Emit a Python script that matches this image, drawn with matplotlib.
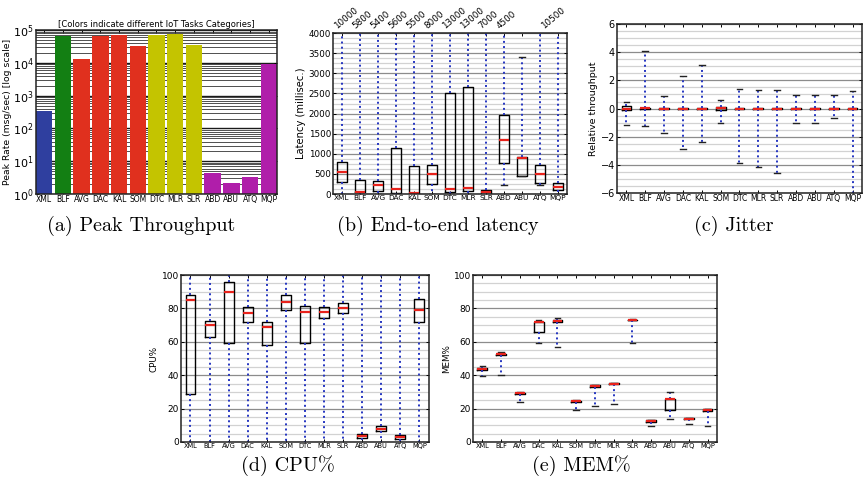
import numpy as np
import matplotlib
matplotlib.use('Agg')
import matplotlib.pyplot as plt
from matplotlib.ticker import AutoMinorLocator, MultipleLocator, LogLocator

tasks = ['XML', 'BLF', 'AVG', 'DAC', 'KAL', 'SOM', 'DTC', 'MLR', 'SLR',
         'ABD', 'ABU', 'ATQ', 'MQP']

# --- (a) peak throughput (msg/sec) ---
peak_rate = [330, 65000, 13000, 65000, 72000, 33000, 70000, 76000, 36000,
             4.3, 2.2, 3.3, 9200]
bar_colors = ['#2f3f9f', '#137f13', '#e0301e', '#e0301e', '#e0301e', '#e0301e',
              '#c4c400', '#c4c400', '#c4c400', '#b01eaa', '#b01eaa', '#b01eaa', '#b01eaa']

# --- (b) end-to-end latency (ms) ---
lat_q1 = [290, 40, 85, 25, 0, 250, 40, 85, 0, 780, 455, 275, 110]
lat_med = [550, 60, 225, 115, 35, 505, 125, 140, 50, 1350, 885, 505, 175]
lat_q3 = [805, 350, 330, 1150, 690, 720, 2510, 2650, 90, 1955, 930, 720, 275]
lat_lo = [0, 0, 0, 0, 0, 0, 0, 0, 0, 215, 440, 225, 0]
lat_hi = [10000, 5800, 5400, 5600, 5500, 8000, 13000, 13000, 7000, 4500, 3410, 10500, 10500]
# max values printed above the axes (position, text)
lat_top_pos = [1, 2, 3, 4, 5, 6, 7, 8, 9, 10, 12.5]
lat_top_txt = ['10000', '5800', '5400', '5600', '5500', '8000', '13000', '13000',
               '7000', '4500', '10500']

# --- (c) jitter (relative throughput) ---
jit_q1 = [-0.12, -0.02, -0.03, -0.03, -0.03, -0.08, -0.03, -0.03, -0.03, -0.03, -0.03, -0.03, -0.03]
jit_med = [0.0, 0.05, 0.0, 0.0, 0.0, 0.02, 0.0, 0.0, 0.0, 0.0, 0.0, 0.0, 0.0]
jit_q3 = [0.15, 0.06, 0.03, 0.03, 0.03, 0.08, 0.03, 0.03, 0.03, 0.03, 0.03, 0.03, 0.03]
jit_lo = [-1.15, -1.27, -1.74, -2.88, -2.38, -1.05, -3.85, -4.15, -4.6, -1.05, -1.05, -0.7, -7.0]
jit_hi = [0.49, 4.06, 0.86, 2.31, 3.11, 0.58, 1.38, 1.31, 1.31, 0.96, 0.96, 0.96, 1.27]

# --- (d) CPU% ---
cpu_q1 = [28.8, 63, 59.4, 72, 58, 79, 59, 74, 77.4, 2.6, 6.4, 2.0, 71.8]
cpu_med = [85, 70, 89.6, 77, 69, 84, 77.6, 77.6, 80, 3.6, 7.8, 3.0, 79]
cpu_q3 = [88, 72.6, 95.8, 80.6, 72, 88, 81.6, 80.6, 83, 4.6, 9.4, 4.2, 85.8]
cpu_lo = [0] * 13
cpu_hi = [100] * 13

# --- (e) MEM% ---
mem_q1 = [43.0, 52.0, 29.0, 66.0, 72.0, 24.2, 33.0, 34.6, 72.8, 12.2, 19.0, 13.6, 18.8]
mem_med = [43.6, 52.4, 29.2, 72.0, 72.6, 24.6, 33.4, 35.0, 73.0, 12.6, 25.6, 14.0, 19.2]
mem_q3 = [44.2, 52.8, 29.6, 72.0, 73.2, 24.8, 34.0, 35.4, 73.2, 13.0, 25.6, 14.4, 19.6]
mem_lo = [39.8, 40.2, 24.2, 59.0, 56.8, 19.4, 21.4, 22.6, 59.2, 9.4, 13.6, 11.0, 9.6]
mem_hi = [45.4, 54.0, 30.0, 72.8, 74.0, 25.0, 34.4, 35.6, 73.4, 13.2, 29.8, 14.6, 19.8]


def make_stats(q1, med, q3, lo, hi):
    return [{'label': t, 'q1': a, 'med': m, 'q3': b, 'whislo': l, 'whishi': h, 'fliers': []}
            for t, a, m, b, l, h in zip(tasks, q1, med, q3, lo, hi)]


def draw_box(ax, stats, ylim, major, fs_y, fs_x, ylabel, fs_lab, caps=True):
    ax.bxp(stats, widths=0.52, capwidths=0.3, showfliers=False, showcaps=caps,
           boxprops=dict(color='black', lw=1.0),
           medianprops=dict(color='#e8231c', lw=1.6),
           whiskerprops=dict(color='#2535c0', ls=':', lw=1.4),
           capprops=dict(color='#222222', lw=1.0))
    ax.set_xlim(0.5, 13.5)
    ax.set_ylim(*ylim)
    ax.yaxis.set_major_locator(MultipleLocator(major))
    ax.yaxis.set_minor_locator(AutoMinorLocator(4))
    ax.grid(True, which='major', axis='y', color='#8c8c8c', lw=0.9)
    ax.grid(True, which='minor', axis='y', color='#d2d2d2', lw=0.9)
    ax.set_axisbelow(True)
    ax.tick_params(direction='in', top=True, right=True, length=2.5, width=0.7, pad=1.5)
    ax.tick_params(which='minor', length=0)
    ax.tick_params(axis='y', labelsize=fs_y)
    ax.tick_params(axis='x', labelsize=fs_x, pad=1)
    ax.set_ylabel(ylabel, fontsize=fs_lab, labelpad=2)
    for s in ax.spines.values():
        s.set_linewidth(1.1)
        s.set_color('#222222')


fig = plt.figure(figsize=(8.65, 4.84), dpi=100)

# (a)
ax_a = fig.add_axes([0.0416, 0.599, 0.2786, 0.339])
ax_a.bar(range(len(tasks)), peak_rate, width=0.88, color=bar_colors, zorder=2)
ax_a.set_yscale('log')
ax_a.set_ylim(1, 1e5)
ax_a.set_xlim(-0.44, len(tasks) - 0.56)
ax_a.set_xticks(range(len(tasks)))
ax_a.set_xticklabels(tasks)
ax_a.yaxis.set_major_locator(LogLocator(base=10, numticks=10))
ax_a.yaxis.set_minor_locator(LogLocator(base=10, subs=np.arange(2, 10), numticks=20))
ax_a.grid(True, which='major', axis='y', color='#1a1a1a', lw=1.0)
ax_a.grid(True, which='minor', axis='y', color='#333333', lw=0.6)
ax_a.set_axisbelow(True)
ax_a.tick_params(direction='in', top=True, right=True, length=2.5, width=0.7, pad=1.5)
ax_a.tick_params(which='minor', length=0)
ax_a.tick_params(axis='y', labelsize=8)
ax_a.tick_params(axis='x', labelsize=5.5, pad=1)
ax_a.set_ylabel('Peak Rate (msg/sec) [log scale]', fontsize=6.7, labelpad=1)
ax_a.set_title('[Colors indicate different IoT Tasks Categories]', fontsize=6, pad=2)
for s in ax_a.spines.values():
    s.set_linewidth(1.1)
    s.set_color('#222222')

# (b)
ax_b = fig.add_axes([0.385, 0.599, 0.2705, 0.3326])
draw_box(ax_b, make_stats(lat_q1, lat_med, lat_q3, lat_lo, lat_hi), (0, 4000), 500,
         6.3, 5.3, 'Latency (millisec.)', 7.2)
for p, t in zip(lat_top_pos, lat_top_txt):
    ax_b.text(p - 0.2, 1.015, t, transform=ax_b.get_xaxis_transform(), rotation=40,
              ha='left', va='bottom', fontsize=6.3, rotation_mode='anchor')

# (c)
ax_c = fig.add_axes([0.7133, 0.6012, 0.2832, 0.349])
draw_box(ax_c, make_stats(jit_q1, jit_med, jit_q3, jit_lo, jit_hi), (-6, 6), 2,
         7, 5.5, 'Relative throughput', 6.8)

# (d)
ax_d = fig.add_axes([0.2092, 0.0868, 0.2867, 0.345])
draw_box(ax_d, make_stats(cpu_q1, cpu_med, cpu_q3, cpu_lo, cpu_hi), (0, 100), 20,
         6.5, 4.8, 'CPU%', 6.3, caps=False)

# (e)
ax_e = fig.add_axes([0.5468, 0.0868, 0.282, 0.345])
draw_box(ax_e, make_stats(mem_q1, mem_med, mem_q3, mem_lo, mem_hi), (0, 100), 20,
         6.5, 4.8, 'MEM%', 6.3)

# sub-figure captions
captions = ['(a) Peak Throughput', '(b) End-to-end latency', '(c) Jitter', '(d) CPU%', '(e) MEM%']
cap_x = [0.163, 0.506, 0.848, 0.333, 0.672]
cap_y = [0.533, 0.533, 0.533, 0.037, 0.037]
for t, x, y in zip(captions, cap_x, cap_y):
    fig.text(x, y, t, family='cmr10', fontsize=14.5, ha='center', va='center')

fig.savefig('out.png', dpi=100)
